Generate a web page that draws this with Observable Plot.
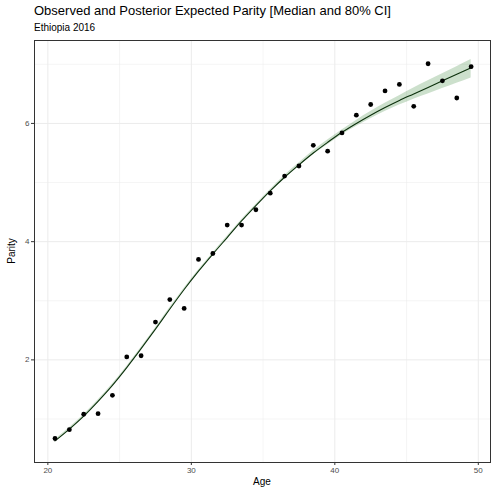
<!DOCTYPE html>
<html>
<head>
<meta charset="utf-8">
<script src="https://cdn.jsdelivr.net/npm/d3@7"></script>
<script src="https://cdn.jsdelivr.net/npm/@observablehq/plot@0.6"></script>
<style>
  html, body { margin: 0; padding: 0; background: #fff; }
  #wrap { position: relative; width: 491px; height: 492px; font-family: "Liberation Sans", Arial, sans-serif; }
  #chart { position: absolute; left: 0; top: 0; }
  .t { position: absolute; white-space: nowrap; color: #000; }
</style>
</head>
<body>
<div id="wrap">
  <div id="chart"></div>
  <div class="t" id="title" style="left:34px; top:3px; font-size:13px;">Observed and Posterior Expected Parity [Median and 80% CI]</div>
  <div class="t" id="subtitle" style="left:34px; top:22px; font-size:10px;">Ethiopia 2016</div>
  <div class="t" id="xlab" style="left:262px; top:476px; font-size:10px; transform:translateX(-50%);">Age</div>
  <div class="t" id="ylab" style="left:11px; top:251px; font-size:10px; transform:translate(-50%,-50%) rotate(-90deg);">Parity</div>
</div>
<script>
const ages = [20.5,21.5,22.5,23.5,24.5,25.5,26.5,27.5,28.5,29.5,30.5,31.5,32.5,33.5,34.5,35.5,36.5,37.5,38.5,39.5,40.5,41.5,42.5,43.5,44.5,45.5,46.5,47.5,48.5,49.5];
const observed = [0.67,0.82,1.08,1.09,1.40,2.05,2.07,2.64,3.02,2.87,3.70,3.80,4.28,4.28,4.54,4.82,5.11,5.28,5.63,5.53,5.84,6.14,6.32,6.55,6.66,6.29,7.01,6.72,6.43,6.96];
const median = [0.63,0.83,1.05,1.30,1.57,1.87,2.19,2.52,2.86,3.19,3.50,3.79,4.07,4.35,4.61,4.86,5.09,5.30,5.50,5.68,5.85,6.00,6.14,6.27,6.39,6.50,6.61,6.72,6.83,6.94];
const lower = [0.61,0.81,1.03,1.28,1.55,1.85,2.17,2.50,2.84,3.17,3.48,3.77,4.05,4.33,4.59,4.84,5.06,5.27,5.47,5.64,5.81,5.95,6.08,6.20,6.31,6.41,6.50,6.59,6.68,6.77];
const upper = [0.65,0.85,1.07,1.32,1.59,1.89,2.21,2.54,2.88,3.21,3.52,3.81,4.09,4.37,4.63,4.88,5.12,5.33,5.54,5.72,5.89,6.05,6.20,6.34,6.47,6.60,6.72,6.84,6.96,7.08];
const xTicks = [20,30,40,50];
const xMinor = [25,35,45];
const yTicks = [2,4,6];
const yMinor = [1,3,5,7];

const rows = ages.map((a,i) => ({age:a, obs:observed[i], med:median[i], lo:lower[i], hi:upper[i]}));

const chart = Plot.plot({
  width: 491,
  height: 492,
  marginLeft: 34,
  marginRight: 1,
  marginTop: 40,
  marginBottom: 30,
  style: {fontFamily: "Liberation Sans, Arial, sans-serif", background: "#fff"},
  x: {domain: [19.07, 50.85]},
  y: {domain: [0.264, 7.403]},
  marks: [
    Plot.gridX(xMinor, {stroke: "#ebebeb", strokeOpacity: 1, strokeWidth: 0.5}),
    Plot.gridY(yMinor, {stroke: "#ebebeb", strokeOpacity: 1, strokeWidth: 0.5}),
    Plot.gridX(xTicks, {stroke: "#ebebeb", strokeOpacity: 1, strokeWidth: 1}),
    Plot.gridY(yTicks, {stroke: "#ebebeb", strokeOpacity: 1, strokeWidth: 1}),
    Plot.areaY(rows, {x: "age", y1: "lo", y2: "hi", fill: "darkgreen", fillOpacity: 0.2, curve: "monotone-x"}),
    Plot.lineY(rows, {x: "age", y: "med", stroke: "#0c300c", strokeWidth: 1.1, curve: "monotone-x"}),
    Plot.dot(rows, {x: "age", y: "obs", r: 2.4, fill: "#000", stroke: "none"}),
    Plot.frame({stroke: "#333333", strokeWidth: 1}),
    Plot.axisX(xTicks, {tickSize: 3, tickPadding: 2, stroke: "#333333", fill: "#4d4d4d", fontSize: 8, label: null, tickFormat: d => String(d)}),
    Plot.axisY(yTicks, {tickSize: 3, tickPadding: 2, stroke: "#333333", fill: "#4d4d4d", fontSize: 8, label: null, tickFormat: d => String(d)})
  ]
});
document.getElementById("chart").appendChild(chart);
</script>
</body>
</html>
